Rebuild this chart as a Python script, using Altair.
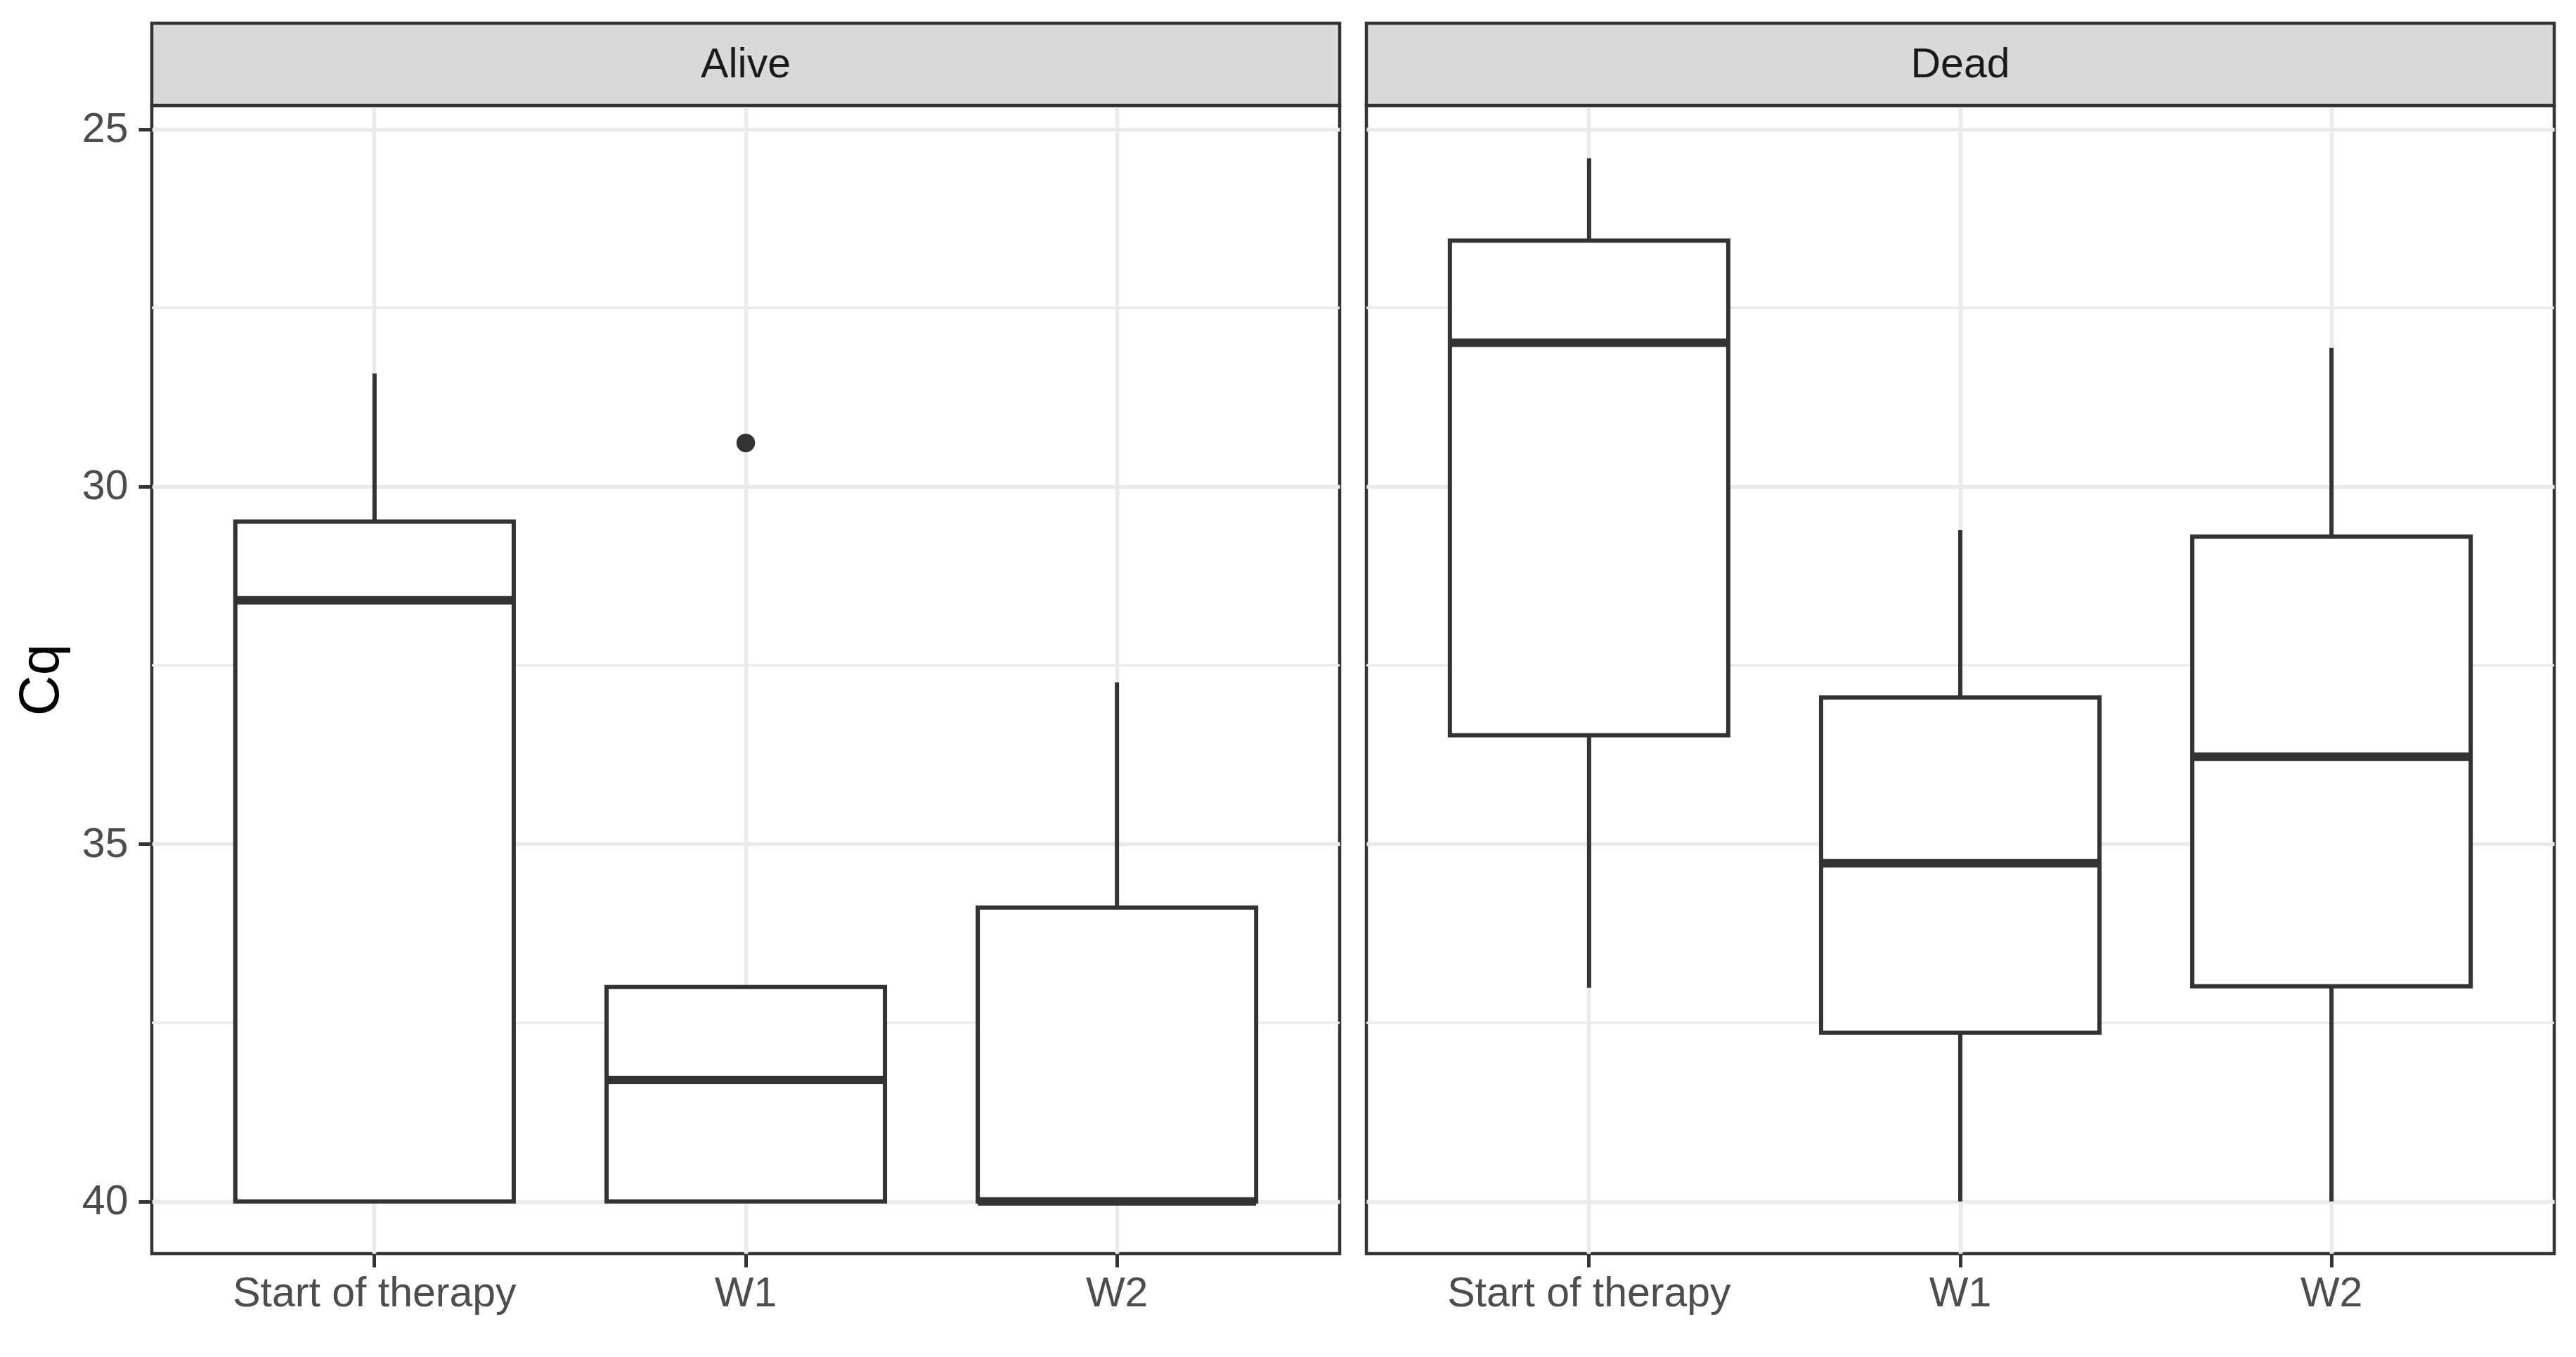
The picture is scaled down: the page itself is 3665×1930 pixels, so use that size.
import altair as alt
import pandas as pd

categories = ["Start of therapy", "W1", "W2"]

# five-number summaries (Cq); smaller Cq is drawn higher (reversed axis)
alive_min = [28.42, 37.00, 32.74]
alive_q1 = [30.49, 37.00, 35.89]
alive_med = [31.59, 38.30, 40.00]
alive_q3 = [40.00, 40.00, 40.00]
alive_max = [40.00, 40.00, 40.00]
alive_out_cat = ["W1"]
alive_out_val = [29.39]

dead_min = [25.41, 30.61, 28.06]
dead_q1 = [26.56, 32.95, 30.70]
dead_med = [27.99, 35.27, 33.78]
dead_q3 = [33.48, 37.64, 36.99]
dead_max = [37.01, 40.00, 40.00]
dead_out_cat = []
dead_out_val = []

major_ticks = [25, 30, 35, 40]
minor_ticks = [27.5, 32.5, 37.5]
y_domain = [24.67, 40.73]

W = 1690
H = 1633
STRIP = 117
DARK = "#333333"
GRID = "#EBEBEB"


def panel(title, mn, q1, med, q3, mx, out_cat, out_val, left):
    df = pd.DataFrame({"cat": categories, "mn": mn, "q1": q1, "med": med, "q3": q3, "mx": mx})
    odf = pd.DataFrame({"cat": out_cat, "v": out_val})
    sdf = pd.DataFrame({"label": [title]})
    mdf = pd.DataFrame({"v": minor_ticks})

    xenc = alt.X(
        "cat:N",
        sort=categories,
        scale=alt.Scale(domain=categories, paddingInner=0.25, paddingOuter=0.225),
        axis=alt.Axis(
            title=None, labelFontSize=59, labelColor="#4D4D4D", labelAngle=0,
            labelLimit=0, tickSize=19, tickWidth=5, tickColor=DARK, labelPadding=8,
            grid=True, gridColor=GRID, gridWidth=5.7, domain=False,
        ),
    )
    yscale = alt.Scale(domain=y_domain, reverse=True, nice=False, zero=False)
    if left:
        yaxis = alt.Axis(
            title="Cq", titleFontSize=80, titleColor="black", titleFontWeight="normal",
            titlePadding=17, values=major_ticks, format="d", labelFontSize=59,
            labelColor="#4D4D4D", tickSize=19, tickWidth=5, tickColor=DARK,
            labelPadding=15, grid=True, gridColor=GRID, gridWidth=5.7, domain=False,
        )
    else:
        yaxis = alt.Axis(
            title=None, values=major_ticks, labels=False, ticks=False, minExtent=0,
            grid=True, gridColor=GRID, gridWidth=5.7, domain=False,
        )

    minor = alt.Chart(mdf).mark_rule(color=GRID, strokeWidth=3.3).encode(
        y=alt.Y("v:Q", scale=yscale, axis=yaxis)
    )
    whisk_top = alt.Chart(df).mark_rule(color=DARK, strokeWidth=6).encode(
        x=xenc, y=alt.Y("mn:Q", scale=yscale), y2="q1:Q"
    )
    whisk_bot = alt.Chart(df).mark_rule(color=DARK, strokeWidth=6).encode(
        x=xenc, y=alt.Y("q3:Q", scale=yscale), y2="mx:Q"
    )
    box = alt.Chart(df).mark_bar(fill="white", stroke=DARK, strokeWidth=6).encode(
        x=xenc, y=alt.Y("q1:Q", scale=yscale), y2="q3:Q"
    )
    median = alt.Chart(df).mark_bar(color=DARK, yOffset=-6, y2Offset=6).encode(
        x=xenc, y=alt.Y("med:Q", scale=yscale), y2="med:Q"
    )
    layers = [minor, whisk_top, whisk_bot, box, median]
    if len(odf):
        pts = alt.Chart(odf).mark_circle(size=700, color=DARK, opacity=1).encode(
            x=xenc, y=alt.Y("v:Q", scale=yscale)
        )
        layers.append(pts)
    strip = alt.Chart(sdf).mark_rect(fill="#D9D9D9", stroke=DARK, strokeWidth=4.5).encode(
        x=alt.value(0), x2=alt.value(W), y=alt.value(-STRIP), y2=alt.value(0)
    )
    strip_text = alt.Chart(sdf).mark_text(
        fontSize=59, color="#1A1A1A", baseline="middle", align="center"
    ).encode(x=alt.value(W / 2), y=alt.value(-STRIP / 2), text="label:N")
    layers += [strip, strip_text]
    return alt.layer(*layers).properties(width=W, height=H)


left_panel = panel("Alive", alive_min, alive_q1, alive_med, alive_q3, alive_max,
                   alive_out_cat, alive_out_val, True)
right_panel = panel("Dead", dead_min, dead_q1, dead_med, dead_q3, dead_max,
                    dead_out_cat, dead_out_val, False)

chart = (
    alt.hconcat(left_panel, right_panel, spacing=28)
    .properties(padding={"left": 8, "top": 20, "right": 5, "bottom": 5})
    .configure(font="Liberation Sans")
    .configure_view(stroke=DARK, strokeWidth=4.5)
)

chart.save("out.html", embed_options={"renderer": "svg", "actions": False})
